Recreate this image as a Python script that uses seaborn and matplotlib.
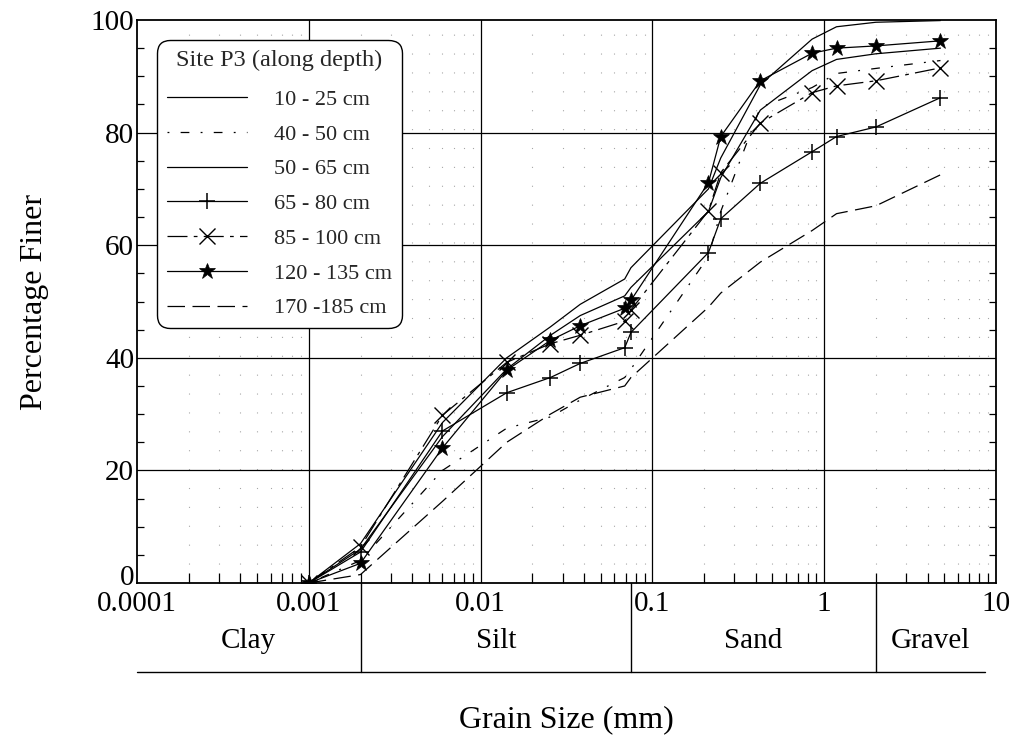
import numpy as np
import pandas as pd
import matplotlib
matplotlib.use("Agg")
import matplotlib.pyplot as plt
import matplotlib.transforms as mtransforms
from matplotlib.ticker import LogLocator, NullFormatter, FixedLocator, MultipleLocator
import seaborn as sns

# ---------------- data ----------------
grain_size_mm = [0.001, 0.002, 0.006, 0.0142, 0.0255, 0.038, 0.069, 0.075,
                 0.212, 0.25, 0.425, 0.85, 1.18, 2.0, 4.75]

depth_10_25 = [0, 7, 28.5, 40, 45.5, 49.5, 54, 56, 70, 75.5, 88.5, 96.6, 98.8, 99.6, 99.9]
depth_40_50 = [0, 4, 20, 27.5, 29.5, 32.5, 36.5, 38, 58, 66, 84.5, 88, 90.5, 91.4, 92.8]
depth_50_65 = [0, 6, 26, 38, 44, 47.5, 51, 52.5, 66, 72, 84, 91, 93, 94, 95]
depth_65_80 = [0, 5.5, 27, 33.8, 36.5, 39, 41.8, 44.5, 58.7, 64.7, 71, 76.6, 79.3, 81, 86.2]
depth_85_100 = [0, 6.4, 29.8, 39.2, 42.5, 44, 46.5, 48.5, 66.1, 72.9, 81.7, 87.1, 88.3, 89.2, 91.5]
depth_120_135 = [0, 3.5, 24, 37.8, 43.1, 45.7, 48.8, 50.2, 71.1, 79.3, 89.2, 94.1, 95.0, 95.4, 96.3]
depth_170_185 = [0, 1.5, 14.5, 25, 30, 33, 35, 36.5, 49, 51.5, 57, 62.6, 65.6, 67, 72.5]

series_labels = ["10 - 25 cm", "40 - 50 cm", "50 - 65 cm", "65 - 80 cm",
                 "85 - 100 cm", "120 - 135 cm", "170 -185 cm"]
series_values = [depth_10_25, depth_40_50, depth_50_65, depth_65_80,
                 depth_85_100, depth_120_135, depth_170_185]

class_names = ["Clay", "Silt", "Sand", "Gravel"]
class_bounds = [0.0001, 0.002, 0.075, 2.0, 8.6]

x_tick_values = [0.0001, 0.001, 0.01, 0.1, 1, 10]
x_tick_labels = ["0.0001", "0.001", "0.01", "0.1", "1", "10"]
y_tick_values = [0, 20, 40, 60, 80, 100]

# ---------------- style ----------------
sns.set_theme(style="white")
plt.rcParams["font.family"] = ["Liberation Serif", "DejaVu Serif"]

styles = [
    dict(linestyle="-", marker=None),
    dict(linestyle=(0, (1.5, 9, 7, 9)), marker=None),
    dict(linestyle="-", marker=None),
    dict(linestyle="-", marker="+", markersize=12, markeredgewidth=1.1),
    dict(linestyle=(0, (16, 5, 3, 5)), marker="x", markersize=11, markeredgewidth=1.0),
    dict(linestyle="-", marker="*", markersize=12, markeredgewidth=0.5),
    dict(linestyle=(0, (14, 6)), marker=None),
]

fig = plt.figure(figsize=(10.16, 7.38), dpi=100)
ax = fig.add_axes([137 / 1016, 1 - 583 / 738, (996 - 137) / 1016, (583 - 20) / 738])

for lab, vals, st in zip(series_labels, series_values, styles):
    df = pd.DataFrame({"size": grain_size_mm, "pct": vals})
    sns.lineplot(data=df, x="size", y="pct", ax=ax, color="black", linewidth=0.9,
                 label=lab, markerfacecolor="black", markeredgecolor="black",
                 sort=False, estimator=None, **st)

ax.set_xscale("log")
ax.set_xlim(0.0001, 10)
ax.set_ylim(0, 100)

# grid
for v in [0.001, 0.01, 0.1, 1]:
    ax.axvline(v, color="black", lw=0.9, zorder=0.5)
for v in [20, 40, 60, 80]:
    ax.axhline(v, color="black", lw=0.9, zorder=0.5)
minor_x = [m * 10.0 ** e for e in range(-4, 1) for m in range(2, 10)]
for v in minor_x:
    ax.axvline(v, color="black", lw=0.8, alpha=0.35, linestyle=(0, (1, 16)), zorder=0.4)

# ticks
ax.xaxis.set_major_locator(FixedLocator(x_tick_values))
ax.set_xticklabels(x_tick_labels)
ax.xaxis.set_minor_locator(LogLocator(base=10, subs=np.arange(2, 10), numticks=20))
ax.xaxis.set_minor_formatter(NullFormatter())
ax.yaxis.set_major_locator(FixedLocator(y_tick_values))
ax.yaxis.set_minor_locator(MultipleLocator(5))
ax.tick_params(axis="x", which="both", direction="in", top=False, bottom=True,
               labelsize=21, pad=6, colors="black")
ax.tick_params(axis="x", which="minor", length=7, width=0.9)
ax.tick_params(axis="x", which="major", length=0)
ax.tick_params(axis="y", which="both", direction="in", left=True, right=True,
               labelsize=21, pad=2, colors="black")
ax.tick_params(axis="y", which="minor", length=5, width=0.9)
ax.tick_params(axis="y", which="major", length=0)
for s in ax.spines.values():
    s.set_visible(True)
    s.set_color("black")
    s.set_linewidth(1.3)

# nudge the "0" y label up a little (it sits just above "0.0001" as in the original)
fig.canvas.draw()
ylab0 = ax.get_yticklabels()[0]
ylab0.set_transform(ylab0.get_transform() + mtransforms.ScaledTranslation(0, 6 / 72, fig.dpi_scale_trans))

ax.set_xlabel("Grain Size (mm)", fontsize=23, color="black")
ax.set_ylabel("Percentage Finer", fontsize=23, color="black")
ax.xaxis.set_label_coords(0.5, -0.217)
ax.yaxis.set_label_coords(-0.102, 0.5)

# soil class bar below axis
trans = mtransforms.blended_transform_factory(ax.transData, ax.transAxes)
bar_y = (583 - 672) / 563
ax.plot([class_bounds[0], class_bounds[-1]], [bar_y, bar_y], color="black", lw=1.0,
        transform=trans, clip_on=False)
for b in class_bounds[1:-1]:
    ax.plot([b, b], [0, bar_y], color="black", lw=1.0, transform=trans, clip_on=False)
for i, name in enumerate(class_names):
    lo, hi = class_bounds[i], class_bounds[i + 1]
    xc = np.sqrt(lo * hi)
    ax.text(xc, (583 - 641) / 563, name, transform=trans, ha="center", va="center",
            fontsize=21, color="black")

# legend
leg = ax.legend(title="Site P3 (along depth)", loc="upper left",
                bbox_to_anchor=((157 - 137) / 859, (583 - 40) / 563), borderaxespad=0,
                fontsize=16, title_fontsize=17.5, handlelength=3.6, handletextpad=1.2,
                labelspacing=0.64, borderpad=0.45, fancybox=True, frameon=True,
                edgecolor="black", facecolor="white", framealpha=1)
leg.get_frame().set_linewidth(1.0)
leg.get_frame().set_boxstyle("round", pad=0.0, rounding_size=0.6)
leg._legend_box.sep = 13

fig.savefig("out.png", dpi=100, facecolor="white")
